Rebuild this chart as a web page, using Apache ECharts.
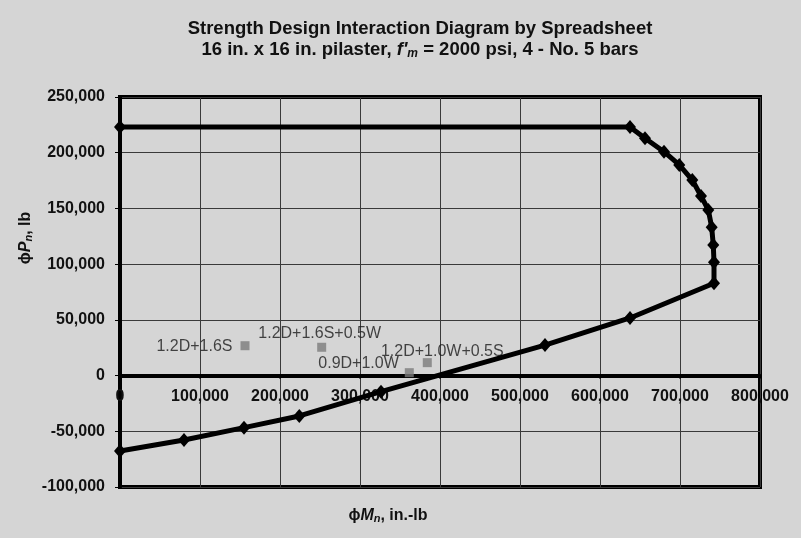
<!DOCTYPE html>
<html>
<head>
<meta charset="utf-8">
<script src="https://cdn.jsdelivr.net/npm/echarts@6/dist/echarts.min.js"></script>
<style>
html,body{margin:0;padding:0;background:#d5d5d5;}
#chart{width:801px;height:538px;}
</style>
</head>
<body>
<div id="chart"></div>
<script>
// Interaction diagram (phi Mn, phi Pn)
const curveMoment = [0, 637500, 656250, 680000, 699100, 715400, 726250, 735400, 739600, 741600, 742500, 742500, 637500, 531250, 326250, 224100, 155000, 80000, 0];
const curveAxial  = [223100, 223100, 213000, 200900, 189000, 175500, 161200, 148600, 133100, 117200, 101700, 82800, 51700, 27400, -14450, -36250, -46750, -57800, -67650];

// Load combinations
const loadNames  = ['1.2D+1.6S', '1.2D+1.6S+0.5W', '0.9D+1.0W', '1.2D+1.0W+0.5S'];
const loadMoment = [156250, 252100, 361600, 384100];
const loadAxial  = [26800, 25400, 2600, 11600];

const xMin = 0, xMax = 800000, xStep = 100000;
const yMin = -100000, yMax = 250000, yStep = 50000;

const gridTop = 97, gridBottom = 51, chartH = 538;
const plotH = chartH - gridTop - gridBottom;
// shift the x axis up so it sits on P = 0 (labels included)
const xAxisOffset = -(plotH * (0 - yMin) / (yMax - yMin));

const fmt = v => Number(v).toLocaleString('en-US');

const labelStyles = [
  {position: 'left', distance: 8, offset: [0, 1]},
  {position: 'top', distance: 2, offset: [-2, 1]},
  {position: 'left', distance: 6, offset: [0, -9]},
  {position: 'top', distance: 1, offset: [15, 2]}
];

const chart = echarts.init(document.getElementById('chart'), null, {renderer: 'canvas'});
const boldFont = {fontFamily: 'Liberation Sans, Arial, sans-serif', fontWeight: 'bold', fontSize: 16, color: '#111'};
const ff = 'Liberation Sans, Arial, sans-serif';

chart.setOption({
  backgroundColor: '#d5d5d5',
  animation: false,
  title: {
    left: 415,
    top: 13,
    textAlign: 'center',
    text: '{b|Strength Design Interaction Diagram by Spreadsheet}\n{b|16 in. x 16 in. pilaster, }{i|f\'}{s|m}{b| = 2000 psi, 4 - No. 5 bars}',
    textStyle: {
      rich: {
        b: {fontFamily: ff, fontWeight: 'bold', fontSize: 18.5, color: '#111', lineHeight: 21},
        i: {fontFamily: ff, fontWeight: 'bold', fontStyle: 'italic', fontSize: 18.5, color: '#111', lineHeight: 21},
        s: {fontFamily: ff, fontWeight: 'bold', fontStyle: 'italic', fontSize: 12, color: '#111', lineHeight: 21, padding: [8, 0, 0, 0]}
      }
    }
  },
  grid: {
    left: 120, right: 41, top: gridTop, bottom: gridBottom,
    show: true, borderColor: '#000', borderWidth: 4, backgroundColor: 'transparent'
  },
  xAxis: {
    type: 'value', min: xMin, max: xMax, interval: xStep,
    position: 'bottom',
    offset: xAxisOffset,
    axisLine: {show: true, onZero: false, lineStyle: {color: '#000', width: 4}},
    axisTick: {show: true, length: 3, lineStyle: {color: '#000', width: 2}},
    splitLine: {show: true, lineStyle: {color: '#3a3a3a', width: 1}},
    axisLabel: Object.assign({margin: 13, formatter: fmt}, boldFont)
  },
  yAxis: {
    type: 'value', min: yMin, max: yMax, interval: yStep,
    axisLine: {show: true, onZero: false, lineStyle: {color: '#000', width: 4}},
    axisTick: {show: true, length: 5, lineStyle: {color: '#000', width: 1}},
    splitLine: {show: true, lineStyle: {color: '#3a3a3a', width: 1}},
    axisLabel: Object.assign({margin: 15, formatter: fmt}, boldFont)
  },
  graphic: [
    {
      type: 'text', x: 388, y: 516,
      style: {
        text: '{n|ϕ}{bi|M}{sub|n}{n|, in.-lb}',
        align: 'center', verticalAlign: 'middle',
        rich: {
          n: {fontFamily: ff, fontWeight: 'bold', fontSize: 16, fill: '#111'},
          bi: {fontFamily: ff, fontWeight: 'bold', fontStyle: 'italic', fontSize: 16, fill: '#111'},
          sub: {fontFamily: ff, fontWeight: 'bold', fontStyle: 'italic', fontSize: 11, fill: '#111', padding: [6, 0, 0, 0]}
        }
      }
    },
    {
      type: 'text', x: 26, y: 238, rotation: Math.PI / 2,
      style: {
        text: '{n|ϕ}{bi|P}{sub|n}{n|, lb}',
        align: 'center', verticalAlign: 'middle',
        rich: {
          n: {fontFamily: ff, fontWeight: 'bold', fontSize: 16, fill: '#111'},
          bi: {fontFamily: ff, fontWeight: 'bold', fontStyle: 'italic', fontSize: 16, fill: '#111'},
          sub: {fontFamily: ff, fontWeight: 'bold', fontStyle: 'italic', fontSize: 11, fill: '#111', padding: [6, 0, 0, 0]}
        }
      }
    }
  ],
  series: [
    {
      type: 'line',
      name: 'Interaction',
      data: curveMoment.map((m, i) => [m, curveAxial[i]]),
      symbol: 'diamond',
      symbolSize: [12, 14],
      showAllSymbol: true,
      itemStyle: {color: '#000'},
      lineStyle: {color: '#000', width: 5},
      z: 5
    },
    {
      type: 'scatter',
      name: 'Loads',
      data: loadMoment.map((m, i) => ({
        value: [m, loadAxial[i]],
        name: loadNames[i],
        label: labelStyles[i]
      })),
      symbol: 'rect',
      symbolSize: 9,
      itemStyle: {color: '#7c7c7c'},
      label: {
        show: true,
        formatter: p => p.name,
        fontFamily: ff,
        fontSize: 16,
        color: '#1a1a1a'
      },
      z: 4
    }
  ]
});
</script>
</body>
</html>
